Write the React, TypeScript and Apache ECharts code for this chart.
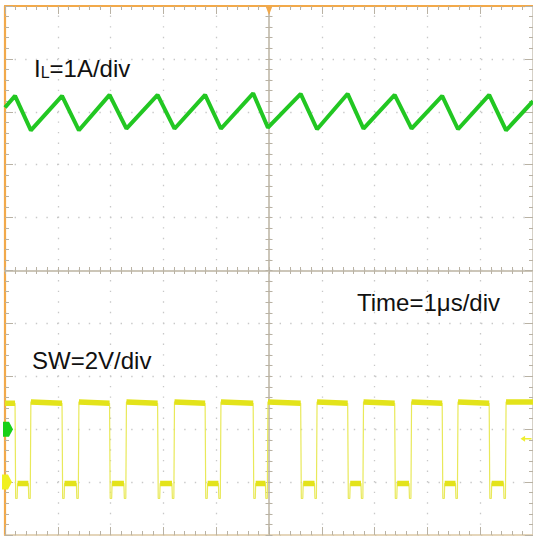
import React, { useEffect, useRef } from "react";
import * as echarts from "echarts";

// Horizontal: time in µs, 1 µs/div, 10 divisions
const TIME_MIN = 0;
const TIME_MAX = 10;

// Inductor current IL (A), 1 A/div; channel ground marker at -3 div
const IL_TIMES = [0, 0.19, 0.49, 1.08, 1.4, 1.98, 2.3, 2.89, 3.21, 3.79, 4.09, 4.7, 4.98, 5.6, 5.91, 6.49, 6.79, 7.38, 7.7, 8.28, 8.58, 9.17, 9.49, 10];
const IL_VALUES = [6.08, 6.3, 5.65, 6.3, 5.65, 6.32, 5.68, 6.32, 5.68, 6.32, 5.68, 6.35, 5.7, 6.34, 5.67, 6.34, 5.68, 6.32, 5.68, 6.3, 5.67, 6.32, 5.65, 6.2];
const IL_AMPS_PER_DIV = 1;
const IL_GROUND_DIV = -3;

// Switch node SW (V), 2 V/div; channel ground marker at -4 div
const SW_FALL_TIMES = [0.19, 1.08, 1.98, 2.89, 3.79, 4.7, 5.6, 6.49, 7.38, 8.28, 9.17];
const SW_RISE_TIMES = [0.49, 1.4, 2.3, 3.21, 4.09, 4.98, 5.91, 6.79, 7.7, 8.58, 9.49];
const SW_HIGH_START = 3.03;
const SW_HIGH_END = 2.98;
const SW_LOW = -0.05;
const SW_UNDERSHOOT = -0.62;
const SW_DEAD_TIME = 0.04;
const SW_VOLTS_PER_DIV = 2;
const SW_GROUND_DIV = -4;
const SW_TRIGGER_LEVEL = 1.64;

// Labels
const LABEL_IL_MAIN = "I";
const LABEL_IL_SUB = "L";
const LABEL_IL_REST = "=1A/div";
const LABEL_TIME = "Time=1μs/div";
const LABEL_SW = "SW=2V/div";

const FONT = "'Liberation Sans', Arial, sans-serif";
const GREEN = "#22c722";
const YELLOW = "#e3e31a";
const YELLOW_THIN = "#e9e95a";
const ORANGE = "#f2a94a";
const GRID_GRAY = "#c9c2b4";
const TICK_GRAY = "#b9b2a4";
const DOT_GRAY = "#c8c8c8";

const ilDiv = (a: number) => a / IL_AMPS_PER_DIV + IL_GROUND_DIV;
const swDiv = (v: number) => v / SW_VOLTS_PER_DIV + SW_GROUND_DIV;

function buildIL() {
  return IL_TIMES.map((t, i) => [t, ilDiv(IL_VALUES[i])]);
}

function buildSWLine() {
  const d: (number | string)[][] = [[TIME_MIN, swDiv(SW_HIGH_END)]];
  SW_FALL_TIMES.forEach((tf, i) => {
    const tr = SW_RISE_TIMES[i];
    d.push([tf, swDiv(SW_HIGH_END)]);
    d.push([tf + 0.012, swDiv(SW_UNDERSHOOT)]);
    d.push([tf + SW_DEAD_TIME, swDiv(SW_UNDERSHOOT)]);
    d.push([tf + SW_DEAD_TIME + 0.008, swDiv(SW_LOW)]);
    d.push([tr - SW_DEAD_TIME - 0.008, swDiv(SW_LOW)]);
    d.push([tr - SW_DEAD_TIME, swDiv(SW_UNDERSHOOT)]);
    d.push([tr - 0.012, swDiv(SW_UNDERSHOOT)]);
    d.push([tr, swDiv(SW_HIGH_START)]);
  });
  d.push([TIME_MAX, swDiv(SW_HIGH_START)]);
  return d;
}

function buildSWBands() {
  const d: (number | string)[][] = [
    [TIME_MIN, swDiv(SW_HIGH_END)],
    [SW_FALL_TIMES[0], swDiv(SW_HIGH_END)],
    [SW_FALL_TIMES[0], "-"],
  ];
  SW_FALL_TIMES.forEach((tf, i) => {
    const tr = SW_RISE_TIMES[i];
    d.push([tf + SW_DEAD_TIME + 0.008, swDiv(SW_LOW)]);
    d.push([tr - SW_DEAD_TIME - 0.008, swDiv(SW_LOW)]);
    d.push([tr, "-"]);
    const next = i + 1 < SW_FALL_TIMES.length ? SW_FALL_TIMES[i + 1] : TIME_MAX;
    d.push([tr, swDiv(SW_HIGH_START)]);
    d.push([next, swDiv(next === TIME_MAX ? SW_HIGH_START : SW_HIGH_END)]);
    d.push([next, "-"]);
  });
  return d;
}

const dotted = (period: number) => ({
  type: [1.4, period - 1.4] as number[],
  dashOffset: 0.7,
  color: DOT_GRAY,
  width: 1.3,
});

export default function App() {
  const ref = useRef<HTMLDivElement>(null);

  useEffect(() => {
    if (!ref.current) return;
    const chart = echarts.init(ref.current, undefined, { renderer: "svg" });

    const gridRect = { left: 5, top: 6, width: 530, height: 529 };

    const borderAxis = (extra: any) => ({
      type: "value",
      min: TIME_MIN,
      max: TIME_MAX,
      interval: 1,
      axisLabel: { show: false },
      axisTick: { show: true, inside: true, length: 8, lineStyle: { color: TICK_GRAY, width: 1 } },
      minorTick: { show: true, splitNumber: 5, length: 4, lineStyle: { color: TICK_GRAY, width: 1 } },
      ...extra,
    });

    const centerAxis = (extra: any) => ({
      type: "value",
      gridIndex: 1,
      min: -5,
      max: 5,
      interval: 1,
      axisLabel: { show: false },
      axisLine: { show: true, onZero: true, lineStyle: { color: GRID_GRAY, width: 1.5 } },
      axisTick: { show: true, inside: false, length: 3.5, lineStyle: { color: TICK_GRAY, width: 1 } },
      minorTick: { show: true, splitNumber: 5, length: 3.5, lineStyle: { color: TICK_GRAY, width: 1 } },
      splitLine: { show: false },
      ...extra,
    });

    const channelMarker = "path://M0,0 L6,0 L10,5 L6,10 L0,10 Z";

    chart.setOption({
      animation: false,
      backgroundColor: "#ffffff",
      grid: [
        { ...gridRect, containLabel: false },
        { ...gridRect, containLabel: false },
      ],
      xAxis: [
        borderAxis({
          gridIndex: 0,
          position: "bottom",
          axisLine: { show: true, onZero: false, lineStyle: { color: "#dcc8a4", width: 1.5 } },
          splitLine: { show: true, lineStyle: dotted(52.9 / 5) },
        }),
        borderAxis({
          gridIndex: 0,
          position: "top",
          axisLine: { show: true, onZero: false, lineStyle: { color: ORANGE, width: 2.2 } },
          splitLine: { show: false },
        }),
        centerAxis({ position: "bottom" }),
        centerAxis({ position: "top" }),
      ],
      yAxis: [
        borderAxis({
          gridIndex: 0,
          position: "left",
          min: -5,
          max: 5,
          axisLine: { show: true, onZero: false, lineStyle: { color: ORANGE, width: 2.2 } },
          splitLine: { show: true, lineStyle: dotted(53 / 5) },
        }),
        borderAxis({
          gridIndex: 0,
          position: "right",
          min: -5,
          max: 5,
          axisLine: { show: true, onZero: false, lineStyle: { color: GRID_GRAY, width: 1.5 } },
          splitLine: { show: false },
        }),
        centerAxis({ position: "left" }),
        centerAxis({ position: "right" }),
      ],
      series: [
        {
          name: "SW",
          type: "line",
          xAxisIndex: 0,
          yAxisIndex: 0,
          data: buildSWLine(),
          symbol: "none",
          lineStyle: { color: YELLOW_THIN, width: 1.2 },
          z: 3,
          markPoint: {
            silent: true,
            label: { show: false },
            data: [
              {
                coord: [TIME_MIN, swDiv(0)],
                symbol: channelMarker,
                symbolSize: [10, 15],
                symbolOffset: [2, 0],
                itemStyle: { color: "#f0f020" },
              },
              {
                coord: [TIME_MAX, swDiv(SW_TRIGGER_LEVEL)],
                symbol: "path://M0,4 L5,0 L5,3 L12,3 L12,5 L5,5 L5,8 Z",
                symbolSize: [11, 6],
                symbolOffset: [-7, 0],
                itemStyle: { color: "#eeee30" },
              },
            ],
          },
        },
        {
          name: "SW band",
          type: "line",
          xAxisIndex: 0,
          yAxisIndex: 0,
          data: buildSWBands(),
          symbol: "none",
          connectNulls: false,
          lineStyle: { color: YELLOW, width: 5.5 },
          z: 4,
        },
        {
          name: "IL",
          type: "line",
          xAxisIndex: 0,
          yAxisIndex: 0,
          data: buildIL(),
          symbol: "none",
          lineStyle: { color: GREEN, width: 4 },
          z: 5,
          markPoint: {
            silent: true,
            label: { show: false },
            data: [
              {
                coord: [TIME_MIN, ilDiv(0)],
                symbol: channelMarker,
                symbolSize: [10, 15],
                symbolOffset: [3, 0],
                itemStyle: { color: "#18d018" },
              },
              {
                coord: [(TIME_MIN + TIME_MAX) / 2, 5],
                symbol: "path://M0,0 L8,0 L4,9 Z",
                symbolSize: [7, 9],
                symbolOffset: [0, 4.5],
                itemStyle: { color: ORANGE },
              },
            ],
          },
        },
      ],
      graphic: [
        {
          type: "text",
          x: 34,
          y: 68,
          z: 10,
          style: {
            text: `{a|${LABEL_IL_MAIN}}{b|${LABEL_IL_SUB}}{a|${LABEL_IL_REST}}`,
            verticalAlign: "middle",
            rich: {
              a: { fontSize: 24, lineHeight: 24, fontFamily: FONT, fill: "#111" },
              b: { fontSize: 16, lineHeight: 18.4, fontFamily: FONT, fill: "#111", verticalAlign: "bottom" },
            },
          },
        },
        {
          type: "text",
          x: 357,
          y: 302,
          z: 10,
          style: { text: LABEL_TIME, fontSize: 24, fontFamily: FONT, fill: "#111", verticalAlign: "middle" },
        },
        {
          type: "text",
          x: 32,
          y: 360,
          z: 10,
          style: { text: LABEL_SW, fontSize: 24, fontFamily: FONT, fill: "#111", verticalAlign: "middle" },
        },
      ],
    });

    return () => chart.dispose();
  }, []);

  return (
    <div
      ref={ref}
      style={{ position: "absolute", left: 0, top: 0, width: 533, height: 536, overflow: "hidden" }}
    />
  );
}
